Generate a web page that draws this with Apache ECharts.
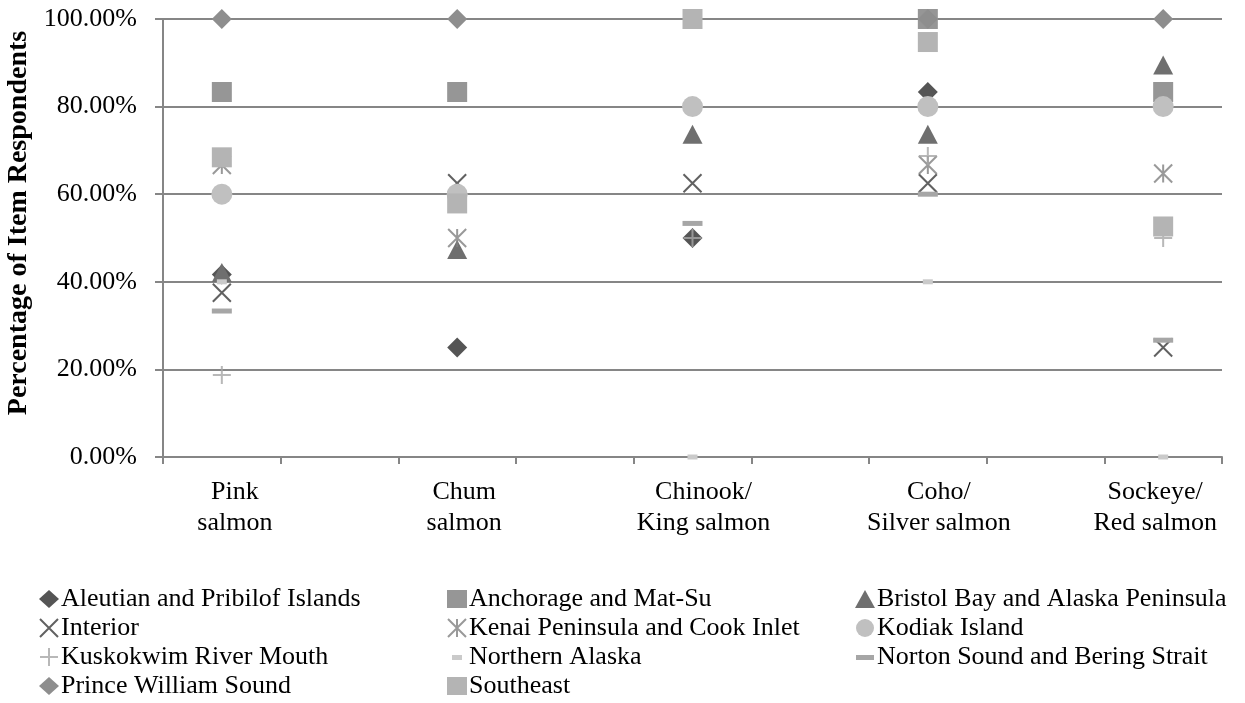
<!DOCTYPE html>
<html>
<head>
<meta charset="utf-8">
<script src="https://cdn.jsdelivr.net/npm/echarts@6/dist/echarts.min.js"></script>
<style>
html,body{margin:0;padding:0;background:#fff;}
#c{width:1245px;height:703px;}
</style>
</head>
<body>
<div id="c"></div>
<script>
// ---- data ----
const categories = ['Pink\nsalmon', 'Chum\nsalmon', 'Chinook/\nKing salmon', 'Coho/\nSilver salmon', 'Sockeye/\nRed salmon'];
const yTicks = [0, 20, 40, 60, 80, 100];
const aleutian   = [41.67, 25.0, 50.0, 83.33, null];
const anchorage  = [83.33, 83.33, null, 100.0, 83.33];
const bristol    = [42.11, 47.37, 73.68, 73.68, 89.47];
const interior   = [37.5, 62.5, 62.5, 62.5, 25.0];
const kenai      = [66.67, 50.0, null, 66.67, 64.71];
const kodiak     = [60.0, 60.0, 80.0, 80.0, 80.0];
const kuskokwim  = [18.75, null, 50.0, 68.75, 50.0];
const northern   = [40.0, null, 0.0, 40.0, 0.0];
const norton     = [33.33, null, 53.33, 60.0, 26.67];
const pws        = [100.0, 100.0, 100.0, 100.0, 100.0];
const southeast  = [68.42, 57.89, 100.0, 94.74, 52.63];

const seriesNames = ['Aleutian and Pribilof Islands', 'Anchorage and Mat-Su', 'Bristol Bay and Alaska Peninsula',
  'Interior', 'Kenai Peninsula and Cook Inlet', 'Kodiak Island', 'Kuskokwim River Mouth',
  'Northern Alaska', 'Norton Sound and Bering Strait', 'Prince William Sound', 'Southeast'];
const seriesValues = [aleutian, anchorage, bristol, interior, kenai, kodiak, kuskokwim, northern, norton, pws, southeast];

// ---- build ----
function spread(arr) { // each category sits in every other axis slot
  const out = [];
  arr.forEach((v, i) => { out.push(v); if (i < arr.length - 1) out.push(null); });
  return out;
}
const labelShift = [26, 14, 22, 22, -16];
const axisData = [];
categories.forEach((c, i) => {
  const s = labelShift[i];
  axisData.push({value: c, textStyle: {padding: s >= 0 ? [0, 0, 0, s] : [0, -s, 0, 0]}});
  if (i < categories.length - 1) axisData.push('');
});

const X = 'path://M0,0L10,10M10,0L0,10';
const AST = 'path://M0,0L10,10M10,0L0,10M5,0L5,10';
const PLUS = 'path://M5,0L5,10M0,5L10,5';
const DASH_S = 'path://M0,0M20,18M5,7h10v5h-10z';
const DASH_L = 'path://M0,0M20,18M1,7h18v5h-18z';
const styles = [
  {symbol: 'diamond', size: 20, color: '#555555'},
  {symbol: 'rect', size: 20, color: '#969696'},
  {symbol: 'triangle', size: [20, 19], color: '#6f6f6f'},
  {symbol: X, size: 18, stroke: '#3a3a3a', w: 2},
  {symbol: AST, size: 18, stroke: '#808080', w: 2},
  {symbol: 'circle', size: 21, color: '#c0c0c0'},
  {symbol: PLUS, size: 18, stroke: '#a6a6a6', w: 2},
  {symbol: 'rect', size: [10, 5], color: '#cacaca', icon: DASH_S},
  {symbol: 'rect', size: [20, 5], color: '#a6a6a6', icon: DASH_L},
  {symbol: 'diamond', size: 20, color: '#8e8e8e'},
  {symbol: 'rect', size: 20, color: '#b4b4b4'}
];

const series = seriesNames.map((name, i) => {
  const st = styles[i];
  const itemStyle = st.stroke ? {color: 'rgba(0,0,0,0)', borderColor: st.stroke, borderWidth: st.w}
                              : {color: st.color, opacity: 1};
  return {
    name: name, type: 'scatter', data: spread(seriesValues[i]),
    symbol: st.symbol, symbolSize: st.size, itemStyle: itemStyle,
    emphasis: {disabled: true}, animation: false
  };
});

const font = '"Liberation Serif", "Times New Roman", serif';
const legendText = {fontFamily: font, fontSize: 26, color: '#000', lineHeight: 26, padding: [0, 0, 0, -3]};
function legend(left, idx) {
  return {left: left, top: 586, height: 117, orient: 'vertical', padding: 0,
    itemWidth: 20, itemHeight: 18, itemGap: 3,
    data: idx.map(i => styles[i].icon ? {name: seriesNames[i], icon: styles[i].icon} : seriesNames[i]),
    textStyle: legendText, selectedMode: false};
}

const chart = echarts.init(document.getElementById('c'), null, {renderer: 'canvas'});
chart.setOption({
  backgroundColor: '#fff',
  animation: false,
  grid: {left: 163, right: 23, top: 19, bottom: 246, containLabel: false, outerBoundsMode: 'none'},
  xAxis: {
    type: 'category', data: axisData, boundaryGap: true,
    axisLine: {lineStyle: {color: '#868686', width: 2}},
    axisTick: {show: true, interval: 0, length: 7, lineStyle: {color: '#868686', width: 2}},
    axisLabel: {interval: 0, margin: 20, fontFamily: font, fontSize: 26, color: '#000', lineHeight: 31, align: 'center'},
    splitLine: {show: false}
  },
  yAxis: {
    type: 'value', min: yTicks[0], max: yTicks[yTicks.length - 1], interval: 20,
    name: 'Percentage of Item Respondents', nameLocation: 'middle', nameGap: 124,
    nameTextStyle: {fontFamily: font, fontSize: 28, fontWeight: 'bold', color: '#000', padding: [0, 0, 0, 30]},
    axisLine: {show: true, lineStyle: {color: '#868686', width: 2}},
    axisTick: {show: true, length: 8, lineStyle: {color: '#868686', width: 2}},
    axisLabel: {margin: 26, fontFamily: font, fontSize: 26, color: '#000', formatter: v => v.toFixed(2) + '%'},
    splitLine: {show: true, lineStyle: {color: '#868686', width: 2}}
  },
  legend: [
    legend(39, [0, 3, 6, 9]),
    legend(447, [1, 4, 7, 10]),
    legend(855, [2, 5, 8])
  ],
  series: series
});
</script>
</body>
</html>
